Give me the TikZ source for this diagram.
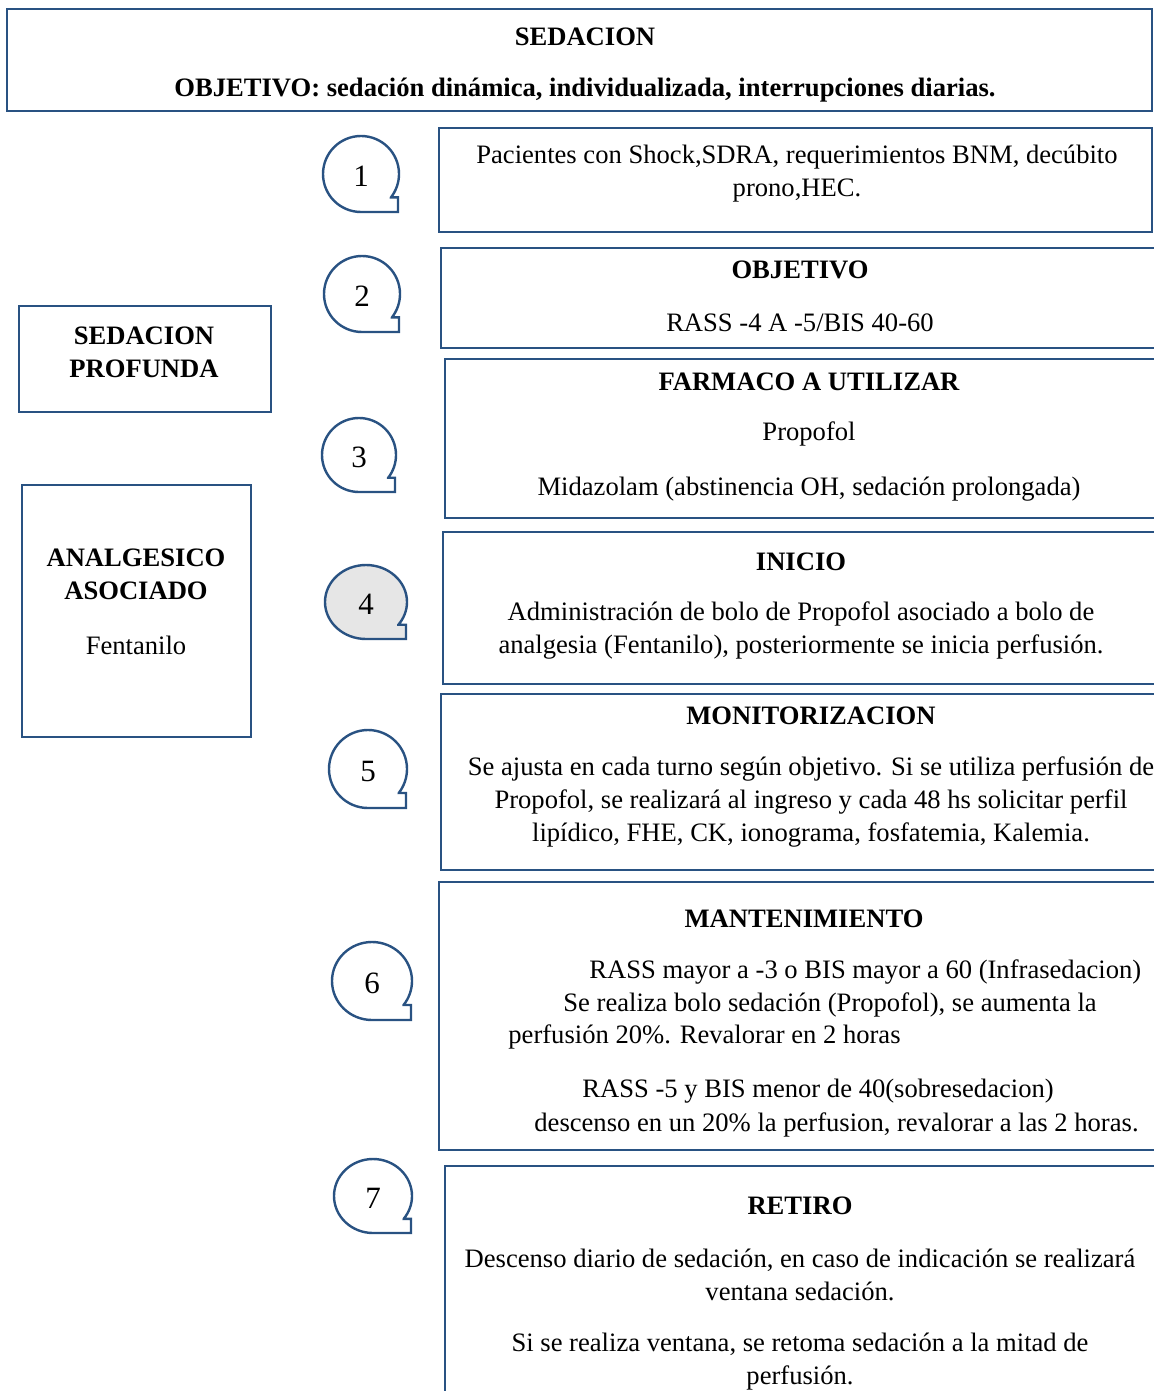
\documentclass[tikz,border=0pt]{standalone}
\usepackage{fontspec}
\setmainfont{Liberation Serif}
\usetikzlibrary{fit}
\definecolor{boxblue}{RGB}{41,82,130}
\definecolor{bubblegray}{RGB}{230,230,230}
\begin{document}
\begin{tikzpicture}[x=0.5pt, y=-0.5pt,
    box/.style={draw=boxblue, line width=1pt, inner sep=0pt},
    txt/.style={font=\fontsize{13.3}{16.5}\selectfont, align=center, inner sep=0pt, yshift=-1.2pt},
    head/.style={font=\fontsize{13.3}{16.5}\selectfont\bfseries, align=center, inner sep=0pt, yshift=-1.2pt},
    bubble/.style={draw=boxblue, line width=1.2pt, fill=#1}
]
    \useasboundingbox (0,0) rectangle (1154,1391);
    \clip (0,0) rectangle (1154,1391);

    % Cabecera
    \node[box, line width=1.2pt, fit={(7,9) (1152,111)}] (top) {};
    \node[head] (tit) at (585,34) {SEDACION};
    \node[head] (obj) at (585,88) {OBJETIVO: sedación dinámica, individualizada, interrupciones diarias.};

    % Cajas izquierdas
    \node[box, fit={(19,306) (271,412)}] (prof) {};
    \node[head] at (144,350) {SEDACION\\PROFUNDA};
    \node[box, fit={(22,485) (251,737)}] (analg) {};
    \node[head] at (136,572) {ANALGESICO\\ASOCIADO};
    \node[txt] at (136,643) {Fentanilo};

    % Burbujas numeradas
    \foreach \n/\cx/\cy/\rx/\ry/\f in {1/361/174/38/38/white, 2/362/294/38/38/white,
        3/359/455/37/37/white, 4/366/602/41/37/bubblegray, 5/368/769/39/39/white,
        6/372/981/40/39/white, 7/373/1196/39/37/white} {
        \draw[bubble=\f] ({\cx+0.788*\rx},{\cy+0.616*\ry}) -- ({\cx+\rx-1},{\cy+0.616*\ry})
            -- ({\cx+\rx-1},{\cy+\ry}) -- (\cx,{\cy+\ry})
            arc[start angle=90, end angle=398, x radius=\rx, y radius=\ry] -- cycle;
        \node[txt, font=\fontsize{15.5}{16}\selectfont] (c\n) at (\cx,\cy) {\n};
    }

    % Pasos
    \node[box, fit={(439,128) (1152,232)}] (p1) {};
    \node[txt] at (797,171) {Pacientes con Shock,SDRA, requerimientos BNM, decúbito\\prono,HEC.};

    \node[box, fit={(441,248) (1170,348)}] (p2) {};
    \node[head] at (800,267) {OBJETIVO};
    \node[txt] at (800,320) {RASS -4 A -5/BIS 40-60};

    \node[box, fit={(445,359) (1170,518)}] (p3) {};
    \node[head] at (809,379) {FARMACO A UTILIZAR};
    \node[txt] at (809,432) {Propofol};
    \node[txt] at (809,487) {Midazolam (abstinencia OH, sedación prolongada)};

    \node[box, fit={(443,532) (1170,684)}] (p4) {};
    \node[head] at (801,559) {INICIO};
    \node[txt] at (801,628) {Administración de bolo de Propofol asociado a bolo de\\analgesia (Fentanilo), posteriormente se inicia perfusión.};

    \node[box, fit={(441,694) (1170,870)}] (p5) {};
    \node[head] at (811,713) {MONITORIZACION};
    \node[txt] at (811,800) {Se ajusta en cada turno según objetivo. Si se utiliza perfusión de\\Propofol, se realizará al ingreso y cada 48 hs solicitar perfil\\lipídico, FHE, CK, ionograma, fosfatemia, Kalemia.};

    \node[box, fit={(439,882) (1170,1150)}] (p6) {};
    \node[head] at (804,916) {MANTENIMIENTO};
    \node[txt, anchor=west] at (589,970) {RASS mayor a -3 o BIS mayor a 60 (Infrasedacion)};
    \node[txt, anchor=west] at (563,1003) {Se realiza bolo sedación (Propofol), se aumenta la};
    \node[txt, anchor=west] at (508,1035) {perfusión 20\%. Revalorar en 2 horas};
    \node[txt, anchor=west] at (582,1089) {RASS -5 y BIS menor de 40(sobresedacion)};
    \node[txt, anchor=west] at (534,1123) {descenso en un 20\% la perfusion, revalorar a las 2 horas.};

    \node[box, fit={(445,1166) (1170,1420)}] (p7) {};
    \node[head] at (800,1203) {RETIRO};
    \node[txt] at (800,1273) {Descenso diario de sedación, en caso de indicación se realizará\\ventana sedación.};
    \node[txt] at (800,1359) {Si se realiza ventana, se retoma sedación a la mitad de\\perfusión.};
\end{tikzpicture}
\end{document}
